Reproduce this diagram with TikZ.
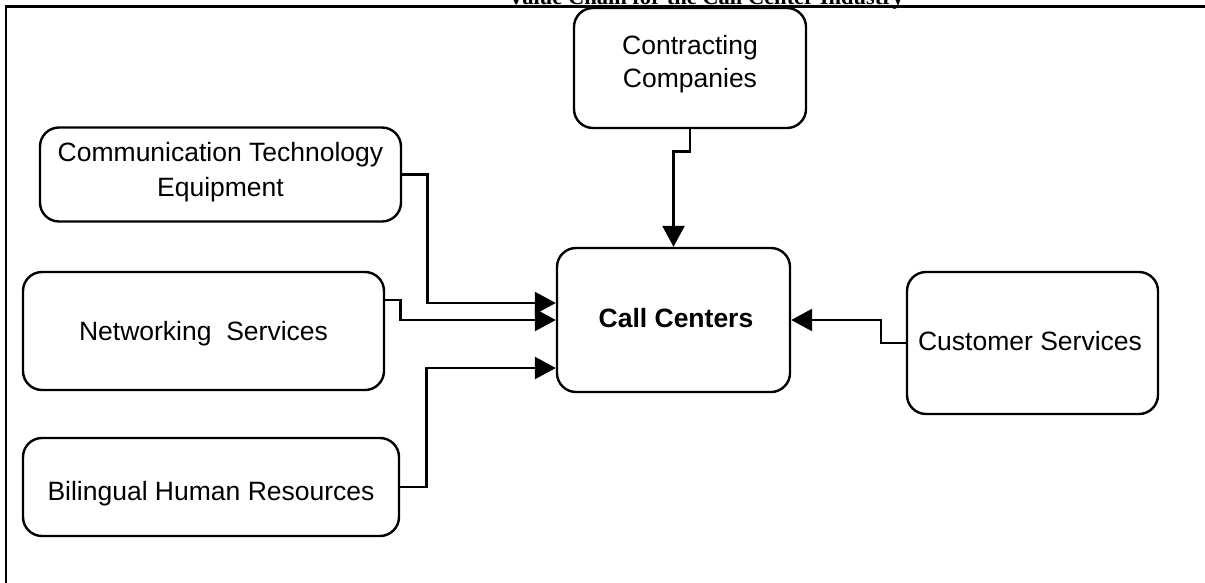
\documentclass[tikz,border=0pt]{standalone}
\usepackage{fontspec}
\setmainfont{Liberation Sans}
\newfontfamily\titleserif{Liberation Serif}
\usetikzlibrary{arrows.meta}

\tikzset{
  box/.style={draw, line width=2.4pt, rounded corners=19pt, fill=white,
    inner sep=0pt},
  lbl/.style={align=center, inner sep=0pt,
    font=\fontsize{26.5}{35}\selectfont},
  conn/.style={draw, line width=2.6pt,
    -{Triangle[length=21pt,width=22pt]}},
  frame/.style={line width=2.6pt}
}

\begin{document}
\begin{tikzpicture}[x=1pt,y=-1pt]
  \useasboundingbox (0,0) rectangle (1205,582);

  % heading, mostly above the page edge
  \node[anchor=base west, inner sep=0pt,
        font=\titleserif\bfseries\fontsize{22.5}{26}\selectfont]
        (title) at (508,4.5) {Value Chain for the Call Center Industry};

  % outer frame
  \draw[frame] (6,590) -- (6,6.5) -- (1212,6.5);

  % boxes
  \node[box, minimum width=232pt, minimum height=120pt] (cc) at (690,68) {};
  \node[box, minimum width=361pt, minimum height=94pt] (ct) at (220.5,174.5) {};
  \node[box, minimum width=361pt, minimum height=118pt] (ns) at (203.5,331) {};
  \node[box, minimum width=376pt, minimum height=98pt] (br) at (211,487) {};
  \node[box, minimum width=233pt, minimum height=144pt] (call) at (673.5,320) {};
  \node[box, minimum width=251pt, minimum height=142pt] (cs) at (1032.5,343) {};

  % box texts
  \node[lbl, font=\fontsize{26.5}{33}\selectfont] (cc-t) at (690,64)
       {Contracting\\Companies};
  \node[lbl] (ct-t) at (220.5,172) {Communication Technology\\Equipment};
  \node[lbl] (ns-t) at (203.5,334) {Networking\ \ Services};
  \node[lbl] (br-t) at (211,494) {Bilingual Human Resources};
  \node[lbl, font=\bfseries\fontsize{26.5}{31}\selectfont] (call-t) at (676,318)
       {Call Centers};
  \node[lbl] (cs-t) at (1030,341) {Customer Services};

  % connectors into the call centers
  \draw[conn] (cc.south) -- ++(0,22) -| (call.north);
  \draw[conn] (ct.east) -- ++(25,0) |- ([yshift=17pt]call.west);
  \draw[conn] ([yshift=31pt]ns.east) -- ++(15,0) |- (call.west);
  \draw[conn] (br.east) -- ++(26,0) |- ([yshift=-48pt]call.west);
  \draw[conn] (cs.west) -- ++(-25,0) |- (call.east);
\end{tikzpicture}
\end{document}
